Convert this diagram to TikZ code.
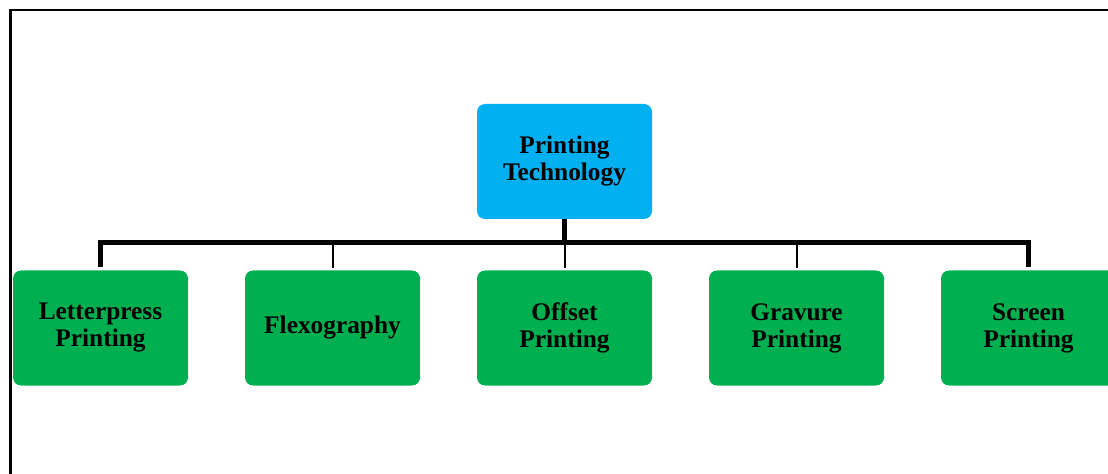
\documentclass[tikz,border=0pt]{standalone}
\usepackage{fontspec}
\setmainfont{Liberation Serif}
\begin{document}
\begin{tikzpicture}[x=0.75pt,y=-0.75pt,
  box/.style={rectangle, rounded corners=6pt, minimum width=131.25pt, minimum height=86.25pt,
    inner sep=0pt, align=center, text=black, font=\bfseries\fontsize{19}{20.25}\selectfont},
  rootbox/.style={box, fill=rootblue},
  leafbox/.style={box, fill=leafgreen},
  thickln/.style={line width=3.75pt, line cap=butt, line join=miter},
  thinln/.style={line width=1.5pt, line cap=butt}]
\definecolor{rootblue}{HTML}{00B0F0}
\definecolor{leafgreen}{HTML}{00B050}
\useasboundingbox (0,0) rectangle (1108,474);
\fill[white] (0,0) rectangle (1108,474);
\begin{scope}
\clip (0,0) rectangle (1108,474);
% page frame
\draw[line width=2.5pt] (10.5,474) -- (10.5,9.5);
\draw[line width=1.75pt] (9.5,10) -- (1108,10);
% nodes
\node[rootbox] (root) at (564.5,161.5) {Printing\\Technology};
\node[leafbox] (lp) at (100.5,328) {Letterpress\\Printing};
\node[leafbox] (fx) at (332.5,328) {Flexography};
\node[leafbox] (of) at (564.5,328) {Offset\\Printing};
\node[leafbox] (gr) at (796.5,328) {Gravure\\Printing};
\node[leafbox] (sc) at (1028.5,328) {Screen\\Printing};
\coordinate (bar) at (0,243);
% connectors
\draw[thickln] (root.south) -- (root.south |- bar);
\draw[thickln, shorten <=2.5pt, shorten >=2.5pt] (lp.north) |- (sc.north |- bar) -- (sc.north);
\draw[thinln, shorten <=1.5pt] (fx.north) -- (fx.north |- bar);
\draw[thinln, shorten <=1.5pt] (of.north) -- (of.north |- bar);
\draw[thinln, shorten <=1.5pt] (gr.north) -- (gr.north |- bar);
\end{scope}
\end{tikzpicture}
\end{document}
